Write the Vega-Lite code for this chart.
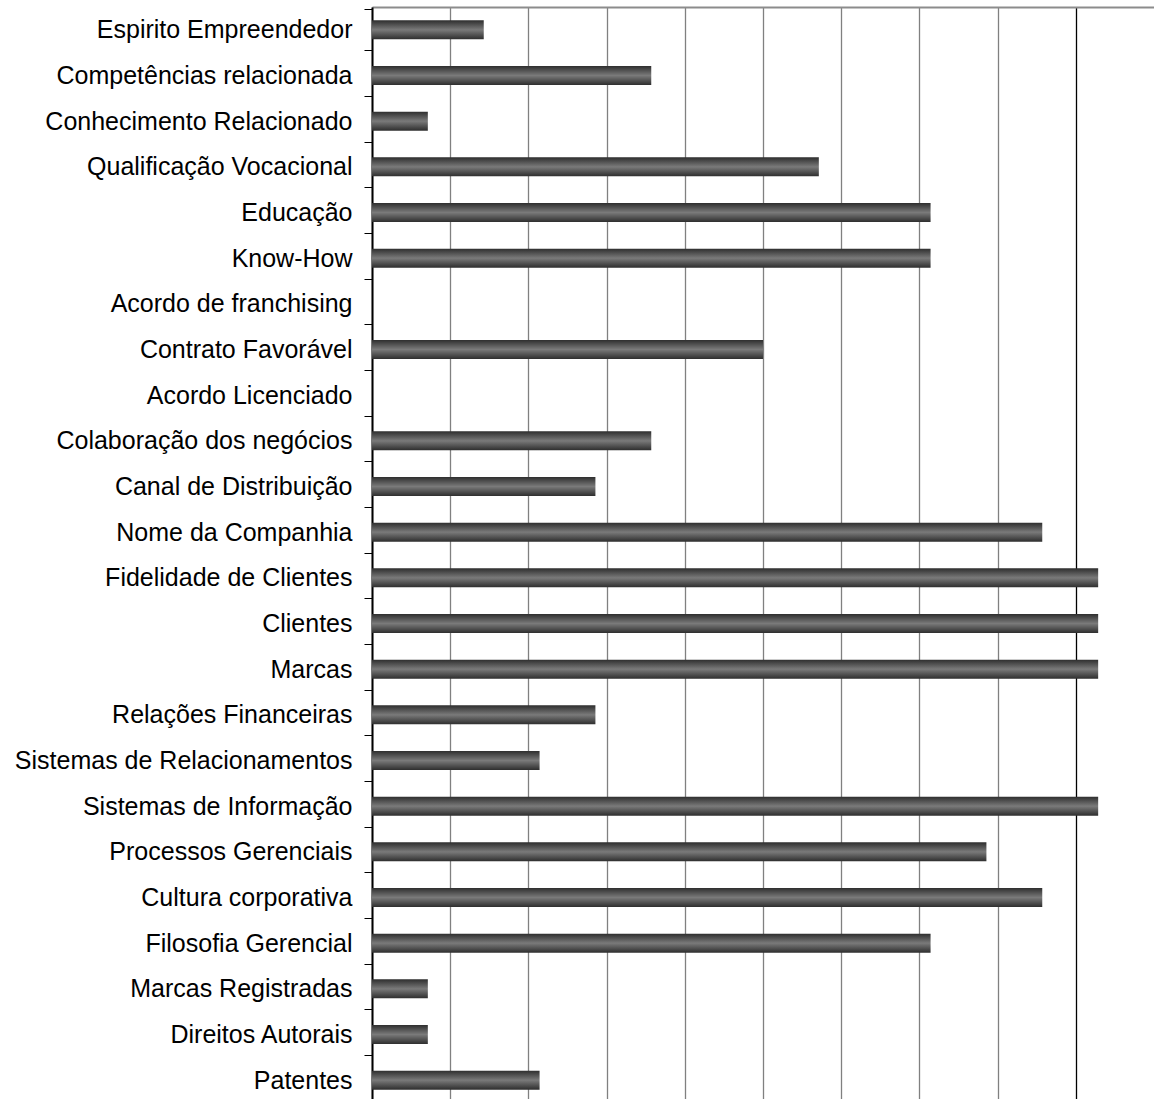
{
  "$schema": "https://vega.github.io/schema/vega-lite/v6.json",
  "autosize": "none",
  "width": 782,
  "height": 1096,
  "padding": {"left": 372, "top": 7, "right": 0, "bottom": 0},
  "background": "white",
  "config": {"view": {"stroke": null}},
  "data": {
    "values": [
      {"item": "Espirito Empreendedor", "pct": 14.29},
      {"item": "Competências relacionada", "pct": 35.71},
      {"item": "Conhecimento Relacionado", "pct": 7.14},
      {"item": "Qualificação Vocacional", "pct": 57.14},
      {"item": "Educação", "pct": 71.43},
      {"item": "Know-How", "pct": 71.43},
      {"item": "Acordo de franchising", "pct": 0},
      {"item": "Contrato Favorável", "pct": 50},
      {"item": "Acordo Licenciado", "pct": 0},
      {"item": "Colaboração dos negócios", "pct": 35.71},
      {"item": "Canal de Distribuição", "pct": 28.57},
      {"item": "Nome da Companhia\u00a0", "pct": 85.71},
      {"item": "Fidelidade de Clientes", "pct": 92.86},
      {"item": "Clientes", "pct": 92.86},
      {"item": "Marcas", "pct": 92.86},
      {"item": "Relações Financeiras", "pct": 28.57},
      {"item": "Sistemas de Relacionamentos", "pct": 21.43},
      {"item": "Sistemas de Informação", "pct": 92.86},
      {"item": "Processos Gerenciais", "pct": 78.57},
      {"item": "Cultura corporativa", "pct": 85.71},
      {"item": "Filosofia Gerencial", "pct": 71.43},
      {"item": "Marcas Registradas", "pct": 7.14},
      {"item": "Direitos Autorais", "pct": 7.14},
      {"item": "Patentes", "pct": 21.43}
    ]
  },
  "mark": {
    "type": "bar",
    "size": 19,
    "color": {
      "gradient": "linear",
      "x1": 0, "y1": 0, "x2": 0, "y2": 1,
      "stops": [
        {"offset": 0, "color": "#2e2e2e"},
        {"offset": 0.5, "color": "#7a7a7a"},
        {"offset": 1, "color": "#2e2e2e"}
      ]
    }
  },
  "encoding": {
    "y": {
      "field": "item",
      "type": "nominal",
      "sort": null,
      "title": null,
      "axis": {
        "tickBand": "extent",
        "tickSize": 8,
        "tickColor": "#000000",
        "tickWidth": 1,
        "domainColor": "#000000",
        "domainWidth": 2,
        "labelFont": "Liberation Sans",
        "labelFontSize": 25,
        "labelColor": "#000000",
        "labelPadding": 12,
        "labelLimit": 400,
        "grid": false
      }
    },
    "x": {
      "field": "pct",
      "type": "quantitative",
      "scale": {"domain": [0, 100], "nice": false},
      "title": null,
      "axis": {
        "orient": "top",
        "values": [0, 10, 20, 30, 40, 50, 60, 70, 80, 90],
        "labels": false,
        "ticks": false,
        "domainColor": "#8c8c8c",
        "domainWidth": 2,
        "grid": true,
        "gridColor": {"condition": {"test": "datum.value == 90", "value": "#000000"}, "value": "#808080"},
        "gridWidth": 1.3,
        "gridOpacity": 1
      }
    }
  }
}
